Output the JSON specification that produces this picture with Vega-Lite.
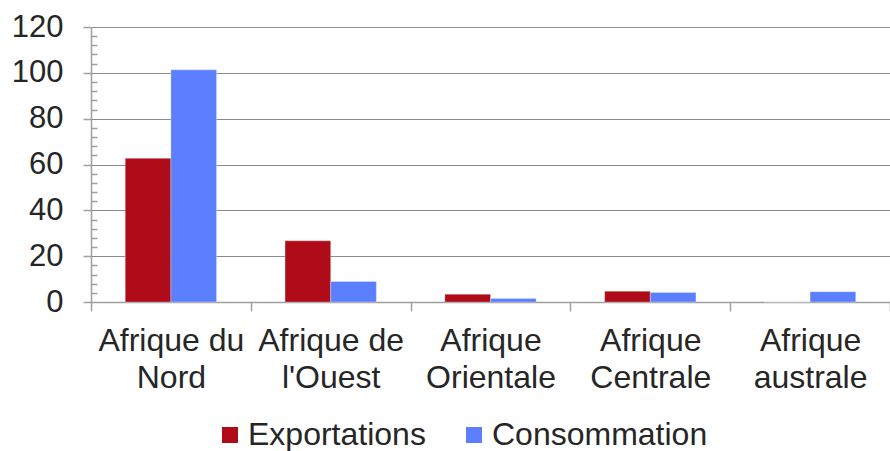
{
  "$schema": "https://vega.github.io/schema/vega-lite/v6.json",
  "width": 799,
  "height": 275,
  "autosize": {"type": "none"},
  "padding": {"left": 91, "top": 27, "right": 0, "bottom": 149},
  "background": "#ffffff",
  "config": {
    "view": {"stroke": null},
    "font": "Liberation Sans"
  },
  "data": {
    "values": [
      {"region": "Afrique du Nord", "serie": "Exportations", "valeur": 62.7},
      {"region": "Afrique du Nord", "serie": "Consommation", "valeur": 101.3},
      {"region": "Afrique de l'Ouest", "serie": "Exportations", "valeur": 26.7},
      {"region": "Afrique de l'Ouest", "serie": "Consommation", "valeur": 9.0},
      {"region": "Afrique Orientale", "serie": "Exportations", "valeur": 3.4},
      {"region": "Afrique Orientale", "serie": "Consommation", "valeur": 1.5},
      {"region": "Afrique Centrale", "serie": "Exportations", "valeur": 4.7},
      {"region": "Afrique Centrale", "serie": "Consommation", "valeur": 4.2},
      {"region": "Afrique australe", "serie": "Exportations", "valeur": 0},
      {"region": "Afrique australe", "serie": "Consommation", "valeur": 4.5}
    ]
  },
  "mark": {"type": "bar", "stroke": "#ffffff", "strokeOpacity": 0.5, "strokeWidth": 0.6},
  "encoding": {
    "x": {
      "field": "region",
      "type": "nominal",
      "sort": null,
      "scale": {"paddingInner": 0, "paddingOuter": 0},
      "axis": {
        "title": null,
        "labelAngle": 0,
        "labelFontSize": 32,
        "labelColor": "#262626",
        "labelLineHeight": 37,
        "labelPadding": 14,
        "labelExpr": "[slice(datum.label, 0, lastindexof(datum.label, ' ')), slice(datum.label, lastindexof(datum.label, ' ') + 1)]",
        "tickBand": "extent",
        "tickSize": 9,
        "tickColor": "#a0a0a0",
        "tickWidth": 1.5,
        "domainColor": "#a0a0a0",
        "domainWidth": 1.5,
        "grid": false
      }
    },
    "xOffset": {
      "field": "serie",
      "type": "nominal",
      "sort": ["Exportations", "Consommation"],
      "scale": {"paddingInner": 0, "paddingOuter": 0.75}
    },
    "y": {
      "field": "valeur",
      "type": "quantitative",
      "scale": {"domain": [0, 120], "nice": false},
      "axis": {
        "title": null,
        "values": [0, 4, 8, 12, 16, 20, 24, 28, 32, 36, 40, 44, 48, 52, 56, 60, 64, 68, 72, 76, 80, 84, 88, 92, 96, 100, 104, 108, 112, 116, 120],
        "labelExpr": "datum.value % 20 == 0 ? datum.label : ''",
        "labelOverlap": false,
        "labelFontSize": 31,
        "labelColor": "#262626",
        "labelPadding": 20,
        "tickSize": {"condition": {"test": "datum.value % 20 == 0", "value": 8}, "value": -6},
        "tickColor": "#a0a0a0",
        "tickWidth": 1.5,
        "domainColor": "#a0a0a0",
        "domainWidth": 1.5,
        "grid": true,
        "gridColor": "#8c8c8c",
        "gridWidth": 1.2,
        "gridOpacity": {"condition": {"test": "datum.value % 20 == 0 && datum.value > 0", "value": 1}, "value": 0}
      }
    },
    "color": {
      "field": "serie",
      "type": "nominal",
      "sort": ["Exportations", "Consommation"],
      "scale": {"domain": ["Exportations", "Consommation"], "range": ["#b00b18", "#5b7fff"]},
      "legend": {
        "title": null,
        "orient": "none",
        "legendX": 123,
        "legendY": 392,
        "direction": "horizontal",
        "symbolType": "square",
        "symbolSize": 256,
        "symbolStrokeWidth": 0,
        "labelFontSize": 32,
        "labelColor": "#262626",
        "labelOffset": 2,
        "labelLimit": 400,
        "columnPadding": 32
      }
    }
  }
}
